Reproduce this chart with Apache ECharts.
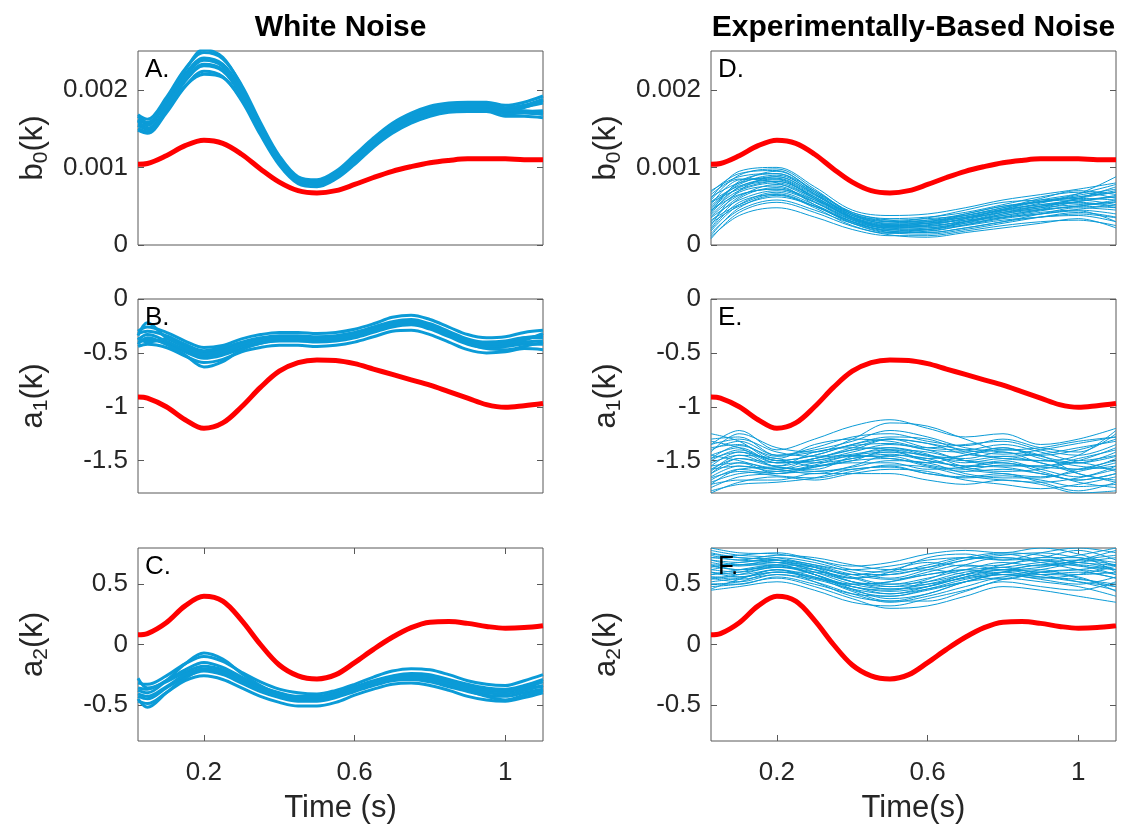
<!DOCTYPE html>
<html><head><meta charset="utf-8">
<script src="https://cdn.jsdelivr.net/npm/echarts@6/dist/echarts.min.js"></script>
<style>html,body{margin:0;padding:0;background:#fff}#c{width:1121px;height:825px}</style>
</head><body><div id="c"></div>
<script>
// ---------- DATA ----------
const TIME = [0.025,0.05,0.1,0.15,0.2,0.25,0.3,0.35,0.4,0.45,0.5,0.55,0.6,0.65,0.7,0.75,0.8,0.85,0.9,0.95,1.0,1.05,1.1];
const TIME_C = [0.025,0.1,0.2,0.3,0.4,0.5,0.6,0.7,0.8,0.9,1.0,1.1];
const X_TICKS = [0.2, 0.6, 1];
const Y_TICKS_B0 = [0, 0.001, 0.002];
const Y_TICKS_A1 = [-1.5, -1, -0.5, 0];
const Y_TICKS_A2 = [-0.5, 0, 0.5];
const COL_TITLES = ['White Noise', 'Experimentally-Based Noise'];
const X_NAMES = ['Time (s)', 'Time(s)'];
const LETTERS = [['A.','B.','C.'],['D.','E.','F.']];

// true (red) coefficient trajectories
const redB0 = [1.04e-3,1.05e-3,1.15e-3,1.28e-3,1.35e-3,1.31e-3,1.17e-3,0.98e-3,0.81e-3,0.70e-3,0.67e-3,0.70e-3,0.78e-3,0.87e-3,0.95e-3,1.01e-3,1.06e-3,1.09e-3,1.11e-3,1.11e-3,1.11e-3,1.10e-3,1.10e-3];
const redA1 = [-0.91,-0.92,-1.00,-1.12,-1.20,-1.15,-1.00,-0.82,-0.67,-0.59,-0.565,-0.57,-0.60,-0.65,-0.70,-0.75,-0.80,-0.86,-0.92,-0.98,-1.005,-0.99,-0.97];
const redA2 = [0.08,0.09,0.18,0.32,0.40,0.36,0.20,0.00,-0.17,-0.26,-0.285,-0.25,-0.15,-0.04,0.06,0.14,0.185,0.19,0.175,0.15,0.135,0.14,0.155];

// white-noise estimates (sampled on TIME)
const whiteB0 = [
 [1.68e-3,1.62e-3,1.90e-3,2.27e-3,2.48e-3,2.40e-3,2.06e-3,1.58e-3,1.15e-3,0.88e-3,0.84e-3,0.95e-3,1.16e-3,1.38e-3,1.57e-3,1.70e-3,1.79e-3,1.83e-3,1.84e-3,1.84e-3,1.80e-3,1.84e-3,1.92e-3],
 [1.48e-3,1.44e-3,1.70e-3,2.04e-3,2.24e-3,2.17e-3,1.86e-3,1.42e-3,1.03e-3,0.79e-3,0.75e-3,0.85e-3,1.04e-3,1.26e-3,1.44e-3,1.57e-3,1.66e-3,1.71e-3,1.72e-3,1.72e-3,1.66e-3,1.66e-3,1.64e-3],
 [1.62e-3,1.56e-3,1.84e-3,2.20e-3,2.41e-3,2.33e-3,2.00e-3,1.53e-3,1.11e-3,0.85e-3,0.81e-3,0.92e-3,1.12e-3,1.34e-3,1.53e-3,1.66e-3,1.75e-3,1.80e-3,1.81e-3,1.80e-3,1.75e-3,1.78e-3,1.83e-3],
 [1.54e-3,1.49e-3,1.76e-3,2.11e-3,2.31e-3,2.24e-3,1.92e-3,1.47e-3,1.07e-3,0.82e-3,0.78e-3,0.88e-3,1.08e-3,1.30e-3,1.48e-3,1.61e-3,1.70e-3,1.74e-3,1.75e-3,1.76e-3,1.70e-3,1.72e-3,1.73e-3],
 [1.60e-3,1.50e-3,1.74e-3,2.05e-3,2.20e-3,2.16e-3,1.88e-3,1.46e-3,1.07e-3,0.83e-3,0.79e-3,0.89e-3,1.09e-3,1.31e-3,1.49e-3,1.62e-3,1.71e-3,1.76e-3,1.77e-3,1.77e-3,1.72e-3,1.77e-3,1.86e-3],
 [1.56e-3,1.54e-3,1.86e-3,2.25e-3,2.52e-3,2.42e-3,2.04e-3,1.54e-3,1.12e-3,0.86e-3,0.82e-3,0.91e-3,1.11e-3,1.33e-3,1.51e-3,1.64e-3,1.73e-3,1.78e-3,1.79e-3,1.79e-3,1.74e-3,1.73e-3,1.70e-3],
 [1.66e-3,1.58e-3,1.82e-3,2.17e-3,2.38e-3,2.30e-3,1.98e-3,1.52e-3,1.10e-3,0.85e-3,0.81e-3,0.91e-3,1.12e-3,1.35e-3,1.54e-3,1.67e-3,1.76e-3,1.81e-3,1.82e-3,1.82e-3,1.77e-3,1.80e-3,1.88e-3],
 [1.50e-3,1.46e-3,1.78e-3,2.13e-3,2.33e-3,2.26e-3,1.94e-3,1.48e-3,1.08e-3,0.83e-3,0.78e-3,0.89e-3,1.09e-3,1.30e-3,1.47e-3,1.60e-3,1.69e-3,1.73e-3,1.74e-3,1.74e-3,1.69e-3,1.70e-3,1.68e-3]
];
const whiteA1 = [
 [-0.30,-0.26,-0.31,-0.39,-0.45,-0.43,-0.37,-0.33,-0.31,-0.31,-0.32,-0.31,-0.28,-0.23,-0.17,-0.15,-0.19,-0.26,-0.33,-0.36,-0.35,-0.31,-0.29],
 [-0.44,-0.42,-0.45,-0.53,-0.59,-0.56,-0.49,-0.45,-0.43,-0.43,-0.44,-0.43,-0.40,-0.35,-0.30,-0.29,-0.33,-0.40,-0.47,-0.50,-0.49,-0.46,-0.47],
 [-0.34,-0.22,-0.36,-0.44,-0.50,-0.47,-0.41,-0.37,-0.35,-0.35,-0.36,-0.35,-0.32,-0.27,-0.22,-0.20,-0.24,-0.31,-0.38,-0.41,-0.40,-0.36,-0.34],
 [-0.40,-0.38,-0.41,-0.49,-0.55,-0.52,-0.46,-0.41,-0.39,-0.39,-0.40,-0.39,-0.36,-0.31,-0.26,-0.24,-0.28,-0.35,-0.42,-0.45,-0.44,-0.42,-0.42],
 [-0.42,-0.36,-0.42,-0.52,-0.63,-0.58,-0.47,-0.41,-0.38,-0.38,-0.39,-0.38,-0.35,-0.30,-0.25,-0.23,-0.27,-0.34,-0.41,-0.46,-0.47,-0.44,-0.40],
 [-0.32,-0.30,-0.34,-0.42,-0.48,-0.45,-0.40,-0.36,-0.34,-0.34,-0.35,-0.34,-0.31,-0.26,-0.21,-0.19,-0.23,-0.30,-0.37,-0.40,-0.39,-0.36,-0.36],
 [-0.38,-0.33,-0.39,-0.47,-0.53,-0.50,-0.44,-0.40,-0.38,-0.38,-0.39,-0.38,-0.35,-0.30,-0.25,-0.23,-0.27,-0.34,-0.41,-0.44,-0.43,-0.40,-0.39],
 [-0.36,-0.40,-0.37,-0.45,-0.51,-0.48,-0.42,-0.38,-0.36,-0.36,-0.37,-0.36,-0.33,-0.28,-0.23,-0.21,-0.25,-0.32,-0.39,-0.42,-0.41,-0.38,-0.32]
];
const whiteA2 = [
 [-0.32,-0.33,-0.26,-0.16,-0.10,-0.14,-0.23,-0.31,-0.37,-0.40,-0.41,-0.38,-0.33,-0.27,-0.22,-0.20,-0.21,-0.25,-0.30,-0.33,-0.34,-0.30,-0.25],
 [-0.47,-0.49,-0.40,-0.30,-0.26,-0.29,-0.36,-0.43,-0.48,-0.51,-0.51,-0.48,-0.42,-0.37,-0.33,-0.32,-0.34,-0.38,-0.43,-0.46,-0.47,-0.44,-0.40],
 [-0.36,-0.37,-0.30,-0.21,-0.15,-0.19,-0.27,-0.35,-0.40,-0.43,-0.43,-0.40,-0.35,-0.30,-0.26,-0.24,-0.25,-0.29,-0.33,-0.36,-0.37,-0.34,-0.29],
 [-0.43,-0.45,-0.36,-0.27,-0.22,-0.25,-0.32,-0.39,-0.44,-0.47,-0.47,-0.44,-0.39,-0.34,-0.30,-0.29,-0.31,-0.35,-0.39,-0.42,-0.43,-0.40,-0.37],
 [-0.38,-0.40,-0.30,-0.16,-0.07,-0.12,-0.24,-0.34,-0.41,-0.44,-0.44,-0.41,-0.36,-0.31,-0.27,-0.25,-0.26,-0.30,-0.35,-0.38,-0.39,-0.36,-0.31],
 [-0.45,-0.52,-0.40,-0.28,-0.21,-0.23,-0.30,-0.38,-0.43,-0.46,-0.46,-0.43,-0.38,-0.33,-0.29,-0.28,-0.29,-0.33,-0.38,-0.43,-0.46,-0.42,-0.38],
 [-0.28,-0.36,-0.31,-0.23,-0.18,-0.21,-0.29,-0.36,-0.41,-0.44,-0.44,-0.41,-0.36,-0.31,-0.27,-0.26,-0.27,-0.31,-0.35,-0.38,-0.39,-0.36,-0.35],
 [-0.41,-0.43,-0.35,-0.25,-0.20,-0.23,-0.31,-0.38,-0.43,-0.46,-0.46,-0.43,-0.38,-0.33,-0.29,-0.28,-0.29,-0.33,-0.37,-0.40,-0.41,-0.38,-0.34]
];

// experimentally-based-noise estimates (sampled on TIME_C)
const expB0 = [
 [0.60e-3,0.95e-3,1.00e-3,0.75e-3,0.45e-3,0.38e-3,0.40e-3,0.48e-3,0.58e-3,0.65e-3,0.72e-3,0.80e-3],
 [0.40e-3,0.75e-3,0.85e-3,0.62e-3,0.35e-3,0.25e-3,0.28e-3,0.36e-3,0.45e-3,0.52e-3,0.58e-3,0.62e-3],
 [0.20e-3,0.55e-3,0.65e-3,0.48e-3,0.25e-3,0.15e-3,0.18e-3,0.25e-3,0.32e-3,0.36e-3,0.40e-3,0.35e-3],
 [0.70e-3,0.88e-3,0.92e-3,0.70e-3,0.42e-3,0.32e-3,0.30e-3,0.38e-3,0.48e-3,0.60e-3,0.70e-3,0.65e-3],
 [0.30e-3,0.62e-3,0.78e-3,0.60e-3,0.35e-3,0.22e-3,0.20e-3,0.30e-3,0.42e-3,0.50e-3,0.55e-3,0.50e-3],
 [0.10e-3,0.38e-3,0.48e-3,0.36e-3,0.20e-3,0.12e-3,0.12e-3,0.18e-3,0.25e-3,0.30e-3,0.32e-3,0.25e-3],
 [0.50e-3,0.80e-3,0.95e-3,0.70e-3,0.40e-3,0.30e-3,0.35e-3,0.45e-3,0.55e-3,0.58e-3,0.62e-3,0.70e-3],
 [0.35e-3,0.58e-3,0.70e-3,0.55e-3,0.32e-3,0.22e-3,0.25e-3,0.30e-3,0.38e-3,0.45e-3,0.50e-3,0.58e-3],
 [0.25e-3,0.70e-3,0.88e-3,0.65e-3,0.38e-3,0.28e-3,0.32e-3,0.40e-3,0.50e-3,0.55e-3,0.62e-3,0.68e-3],
 [0.45e-3,0.65e-3,0.72e-3,0.55e-3,0.30e-3,0.18e-3,0.16e-3,0.22e-3,0.30e-3,0.40e-3,0.48e-3,0.45e-3],
 [0.55e-3,0.72e-3,0.82e-3,0.62e-3,0.38e-3,0.30e-3,0.32e-3,0.35e-3,0.42e-3,0.48e-3,0.60e-3,0.75e-3],
 [0.15e-3,0.45e-3,0.58e-3,0.45e-3,0.28e-3,0.20e-3,0.22e-3,0.28e-3,0.35e-3,0.42e-3,0.45e-3,0.40e-3],
 [0.65e-3,0.85e-3,0.80e-3,0.58e-3,0.33e-3,0.24e-3,0.26e-3,0.34e-3,0.46e-3,0.56e-3,0.66e-3,0.88e-3],
 [0.38e-3,0.68e-3,0.76e-3,0.52e-3,0.28e-3,0.16e-3,0.20e-3,0.28e-3,0.40e-3,0.48e-3,0.52e-3,0.55e-3],
 [0.28e-3,0.50e-3,0.62e-3,0.50e-3,0.30e-3,0.22e-3,0.24e-3,0.30e-3,0.36e-3,0.40e-3,0.44e-3,0.30e-3],
 [0.48e-3,0.78e-3,0.90e-3,0.68e-3,0.42e-3,0.34e-3,0.36e-3,0.42e-3,0.52e-3,0.62e-3,0.68e-3,0.60e-3],
 [0.08e-3,0.42e-3,0.55e-3,0.42e-3,0.24e-3,0.13e-3,0.10e-3,0.16e-3,0.22e-3,0.28e-3,0.34e-3,0.22e-3],
 [0.58e-3,0.90e-3,0.98e-3,0.72e-3,0.40e-3,0.26e-3,0.24e-3,0.32e-3,0.44e-3,0.54e-3,0.64e-3,0.72e-3],
 [0.42e-3,0.82e-3,0.92e-3,0.66e-3,0.36e-3,0.24e-3,0.26e-3,0.34e-3,0.46e-3,0.58e-3,0.66e-3,0.78e-3],
 [0.22e-3,0.60e-3,0.74e-3,0.56e-3,0.32e-3,0.20e-3,0.18e-3,0.26e-3,0.36e-3,0.44e-3,0.50e-3,0.48e-3],
 [0.68e-3,0.92e-3,0.96e-3,0.68e-3,0.38e-3,0.28e-3,0.30e-3,0.40e-3,0.50e-3,0.56e-3,0.58e-3,0.52e-3],
 [0.32e-3,0.52e-3,0.66e-3,0.50e-3,0.28e-3,0.16e-3,0.14e-3,0.20e-3,0.28e-3,0.36e-3,0.42e-3,0.36e-3],
 [0.52e-3,0.84e-3,0.86e-3,0.64e-3,0.40e-3,0.32e-3,0.34e-3,0.38e-3,0.46e-3,0.52e-3,0.56e-3,0.64e-3],
 [0.12e-3,0.48e-3,0.64e-3,0.50e-3,0.30e-3,0.18e-3,0.20e-3,0.26e-3,0.34e-3,0.40e-3,0.46e-3,0.52e-3],
 [0.44e-3,0.70e-3,0.80e-3,0.60e-3,0.34e-3,0.24e-3,0.28e-3,0.36e-3,0.44e-3,0.50e-3,0.54e-3,0.48e-3],
 [0.62e-3,0.80e-3,0.88e-3,0.66e-3,0.40e-3,0.30e-3,0.28e-3,0.34e-3,0.42e-3,0.50e-3,0.60e-3,0.68e-3],
 [0.36e-3,0.64e-3,0.72e-3,0.58e-3,0.36e-3,0.26e-3,0.28e-3,0.32e-3,0.38e-3,0.46e-3,0.56e-3,0.62e-3],
 [0.18e-3,0.52e-3,0.68e-3,0.52e-3,0.30e-3,0.18e-3,0.16e-3,0.22e-3,0.30e-3,0.36e-3,0.38e-3,0.30e-3],
 [0.56e-3,0.76e-3,0.84e-3,0.60e-3,0.34e-3,0.22e-3,0.22e-3,0.30e-3,0.40e-3,0.46e-3,0.50e-3,0.56e-3],
 [0.46e-3,0.74e-3,0.82e-3,0.62e-3,0.36e-3,0.26e-3,0.30e-3,0.38e-3,0.48e-3,0.56e-3,0.60e-3,0.58e-3]
];
const expA1 = [
 [-1.35,-1.22,-1.40,-1.30,-1.18,-1.12,-1.20,-1.28,-1.25,-1.35,-1.30,-1.20],
 [-1.50,-1.40,-1.50,-1.45,-1.35,-1.30,-1.38,-1.40,-1.35,-1.42,-1.50,-1.45],
 [-1.65,-1.55,-1.58,-1.52,-1.45,-1.42,-1.50,-1.55,-1.50,-1.58,-1.65,-1.55],
 [-1.75,-1.65,-1.62,-1.60,-1.58,-1.55,-1.62,-1.65,-1.62,-1.70,-1.78,-1.70],
 [-1.40,-1.32,-1.45,-1.38,-1.28,-1.25,-1.32,-1.36,-1.30,-1.38,-1.42,-1.25],
 [-1.58,-1.48,-1.55,-1.48,-1.40,-1.38,-1.45,-1.48,-1.42,-1.52,-1.58,-1.48],
 [-1.70,-1.62,-1.60,-1.56,-1.50,-1.48,-1.55,-1.60,-1.58,-1.62,-1.68,-1.62],
 [-1.30,-1.28,-1.45,-1.40,-1.32,-1.22,-1.28,-1.38,-1.42,-1.45,-1.40,-1.30],
 [-1.45,-1.38,-1.52,-1.50,-1.42,-1.35,-1.40,-1.50,-1.52,-1.55,-1.48,-1.40],
 [-1.62,-1.52,-1.58,-1.62,-1.55,-1.45,-1.48,-1.58,-1.62,-1.65,-1.60,-1.52],
 [-1.80,-1.70,-1.65,-1.68,-1.62,-1.58,-1.60,-1.68,-1.72,-1.76,-1.72,-1.65],
 [-1.52,-1.45,-1.55,-1.42,-1.38,-1.40,-1.48,-1.45,-1.38,-1.48,-1.55,-1.58],
 [-1.38,-1.35,-1.48,-1.35,-1.30,-1.32,-1.38,-1.35,-1.32,-1.40,-1.45,-1.35],
 [-1.68,-1.58,-1.62,-1.55,-1.52,-1.52,-1.58,-1.56,-1.52,-1.60,-1.70,-1.75],
 [-1.55,-1.42,-1.50,-1.52,-1.48,-1.42,-1.45,-1.52,-1.48,-1.50,-1.52,-1.42],
 [-1.45,-1.50,-1.58,-1.48,-1.45,-1.48,-1.52,-1.45,-1.40,-1.45,-1.62,-1.68],
 [-1.72,-1.68,-1.68,-1.62,-1.62,-1.62,-1.68,-1.72,-1.68,-1.72,-1.80,-1.78],
 [-1.25,-1.32,-1.50,-1.45,-1.35,-1.28,-1.30,-1.42,-1.48,-1.50,-1.45,-1.22],
 [-1.42,-1.25,-1.38,-1.42,-1.30,-1.15,-1.18,-1.30,-1.40,-1.38,-1.32,-1.28],
 [-1.60,-1.45,-1.48,-1.55,-1.50,-1.40,-1.42,-1.50,-1.55,-1.55,-1.50,-1.38],
 [-1.48,-1.42,-1.56,-1.58,-1.46,-1.38,-1.44,-1.56,-1.60,-1.58,-1.52,-1.60],
 [-1.35,-1.30,-1.42,-1.46,-1.40,-1.30,-1.34,-1.44,-1.46,-1.44,-1.38,-1.32],
 [-1.72,-1.58,-1.56,-1.60,-1.56,-1.50,-1.52,-1.62,-1.66,-1.66,-1.58,-1.50],
 [-1.55,-1.52,-1.62,-1.56,-1.48,-1.44,-1.50,-1.55,-1.56,-1.62,-1.68,-1.62],
 [-1.62,-1.48,-1.52,-1.50,-1.44,-1.40,-1.46,-1.50,-1.46,-1.52,-1.62,-1.70],
 [-1.48,-1.36,-1.46,-1.42,-1.36,-1.34,-1.40,-1.42,-1.38,-1.46,-1.52,-1.46],
 [-1.78,-1.72,-1.70,-1.66,-1.58,-1.56,-1.62,-1.66,-1.64,-1.68,-1.74,-1.72],
 [-1.32,-1.38,-1.52,-1.48,-1.38,-1.30,-1.34,-1.40,-1.44,-1.40,-1.34,-1.28],
 [-1.58,-1.55,-1.60,-1.54,-1.46,-1.46,-1.54,-1.58,-1.54,-1.56,-1.58,-1.55],
 [-1.66,-1.60,-1.64,-1.66,-1.60,-1.54,-1.56,-1.64,-1.68,-1.70,-1.66,-1.58]
];
const expA2 = [
 [0.75,0.72,0.70,0.62,0.55,0.60,0.72,0.75,0.70,0.72,0.78,0.70],
 [0.65,0.62,0.65,0.58,0.48,0.45,0.52,0.60,0.62,0.58,0.60,0.55],
 [0.55,0.52,0.58,0.52,0.42,0.35,0.40,0.48,0.55,0.52,0.48,0.40],
 [0.48,0.50,0.55,0.48,0.38,0.30,0.32,0.40,0.48,0.45,0.40,0.35],
 [0.70,0.68,0.72,0.68,0.60,0.55,0.62,0.70,0.75,0.70,0.65,0.62],
 [0.60,0.58,0.62,0.55,0.50,0.52,0.58,0.62,0.58,0.62,0.68,0.72],
 [0.80,0.76,0.75,0.70,0.65,0.68,0.75,0.78,0.76,0.80,0.75,0.65],
 [0.52,0.55,0.60,0.60,0.55,0.48,0.50,0.55,0.60,0.62,0.55,0.48],
 [0.68,0.65,0.68,0.65,0.58,0.62,0.68,0.65,0.66,0.72,0.72,0.60],
 [0.58,0.62,0.66,0.58,0.45,0.40,0.45,0.52,0.58,0.55,0.58,0.65],
 [0.45,0.48,0.52,0.45,0.35,0.32,0.38,0.45,0.52,0.48,0.45,0.52],
 [0.72,0.70,0.68,0.62,0.52,0.50,0.55,0.62,0.68,0.65,0.70,0.78],
 [0.62,0.60,0.64,0.62,0.55,0.58,0.62,0.58,0.54,0.60,0.62,0.58],
 [0.78,0.74,0.72,0.66,0.62,0.65,0.70,0.72,0.70,0.76,0.80,0.76],
 [0.50,0.52,0.60,0.55,0.48,0.42,0.48,0.58,0.64,0.58,0.52,0.45],
 [0.66,0.66,0.70,0.64,0.52,0.48,0.54,0.66,0.72,0.68,0.62,0.55],
 [0.56,0.56,0.62,0.52,0.40,0.36,0.42,0.52,0.60,0.66,0.66,0.62],
 [0.74,0.70,0.74,0.72,0.66,0.62,0.64,0.70,0.74,0.76,0.72,0.68],
 [0.62,0.66,0.68,0.60,0.50,0.46,0.50,0.58,0.66,0.70,0.66,0.58],
 [0.54,0.58,0.64,0.58,0.46,0.38,0.42,0.52,0.58,0.56,0.52,0.48],
 [0.70,0.66,0.66,0.58,0.50,0.52,0.60,0.66,0.62,0.64,0.70,0.74],
 [0.46,0.54,0.62,0.56,0.44,0.36,0.36,0.44,0.54,0.58,0.56,0.44],
 [0.76,0.72,0.70,0.64,0.58,0.58,0.64,0.72,0.76,0.74,0.68,0.66],
 [0.58,0.60,0.66,0.64,0.56,0.50,0.52,0.58,0.62,0.66,0.68,0.62],
 [0.66,0.62,0.64,0.60,0.52,0.46,0.48,0.56,0.62,0.60,0.58,0.60],
 [0.50,0.50,0.56,0.50,0.42,0.40,0.46,0.54,0.58,0.54,0.50,0.56],
 [0.72,0.74,0.76,0.70,0.62,0.60,0.66,0.72,0.72,0.70,0.74,0.80],
 [0.56,0.54,0.58,0.54,0.46,0.42,0.46,0.52,0.56,0.60,0.62,0.66],
 [0.64,0.68,0.70,0.66,0.58,0.54,0.58,0.62,0.64,0.68,0.70,0.66],
 [0.60,0.56,0.60,0.56,0.48,0.44,0.48,0.56,0.60,0.56,0.54,0.50]
];

// ---------- LAYOUT / STYLE ----------
const FONT = '"Liberation Sans", Arial, Helvetica, sans-serif';
const TXT = '#262626';
const AXC = '#595959';
const BLUE = '#0b9bd7';
const RED = '#ff0000';
const X_MIN = 0.025, X_MAX = 1.1;
const COLS = [{left:138, width:405}, {left:711, width:405}];
const ROWS = [{top:51, height:194}, {top:299, height:194}, {top:548, height:194}];
const ROW_Y = [
  {min:0, max:0.0025, ticks:Y_TICKS_B0, sym:'b', sub:'0'},
  {min:-1.8, max:0, ticks:Y_TICKS_A1, sym:'a', sub:'1'},
  {min:-0.8, max:0.8, ticks:Y_TICKS_A2, sym:'a', sub:'2'}
];
const PANELS = [
  {c:0,r:0, blue:whiteB0, t:TIME, red:redB0, w:3},
  {c:0,r:1, blue:whiteA1, t:TIME, red:redA1, w:3},
  {c:0,r:2, blue:whiteA2, t:TIME, red:redA2, w:3},
  {c:1,r:0, blue:expB0, t:TIME_C, red:redB0, w:1},
  {c:1,r:1, blue:expA1, t:TIME_C, red:redA1, w:1},
  {c:1,r:2, blue:expA2, t:TIME_C, red:redA2, w:1}
];

const grid = [], xAxis = [], yAxis = [], series = [], graphic = [];
const tickStyle = {color: AXC, width: 1};
PANELS.forEach((p, i) => {
  const col = COLS[p.c], row = ROWS[p.r], ry = ROW_Y[p.r];
  const bottomRow = p.r === 2;
  grid.push({left: col.left, top: row.top, width: col.width, height: row.height,
    show: true, borderColor: AXC, borderWidth: 1, backgroundColor: 'transparent', containLabel: false});
  xAxis.push({gridIndex: i, type: 'value', min: X_MIN, max: X_MAX, position: 'bottom',
    axisLine: {show: false, onZero: false}, splitLine: {show: false},
    axisTick: {show: bottomRow, inside: true, length: 6, customValues: X_TICKS, lineStyle: tickStyle},
    axisLabel: {show: bottomRow, customValues: X_TICKS, color: TXT, fontSize: 26, fontFamily: FONT, margin: 19},
    name: bottomRow ? X_NAMES[p.c] : '', nameLocation: 'middle', nameGap: 52,
    nameTextStyle: {color: TXT, fontSize: 31, fontFamily: FONT}});
  xAxis.push({gridIndex: i, type: 'value', min: X_MIN, max: X_MAX, position: 'top',
    axisLine: {show: false, onZero: false}, splitLine: {show: false}, axisLabel: {show: false},
    axisTick: {show: bottomRow, inside: true, length: 6, customValues: X_TICKS, lineStyle: tickStyle}});
  yAxis.push({gridIndex: i, type: 'value', min: ry.min, max: ry.max, position: 'left',
    axisLine: {show: false, onZero: false}, splitLine: {show: false},
    axisTick: {show: true, inside: true, length: 6, customValues: ry.ticks, lineStyle: tickStyle},
    axisLabel: {customValues: ry.ticks, color: TXT, fontSize: 26, fontFamily: FONT, margin: 10},
    name: '{m|' + ry.sym + '}{s|' + ry.sub + '}{m|(k)}', nameLocation: 'middle', nameGap: 86,
    nameTextStyle: {rich: {
      m: {fontSize: 31, fontFamily: FONT, color: TXT, lineHeight: 34, verticalAlign: 'top'},
      s: {fontSize: 21, fontFamily: FONT, color: TXT, lineHeight: 21, padding: [16,0,0,0], verticalAlign: 'bottom'}
    }}});
  yAxis.push({gridIndex: i, type: 'value', min: ry.min, max: ry.max, position: 'right',
    axisLine: {show: false, onZero: false}, splitLine: {show: false}, axisLabel: {show: false},
    axisTick: {show: true, inside: true, length: 6, customValues: ry.ticks, lineStyle: tickStyle}});
  p.blue.forEach(line => {
    series.push({type: 'line', xAxisIndex: 2*i, yAxisIndex: 2*i, data: p.t.map((t, k) => [t, line[k]]),
      smooth: 0.35, showSymbol: false, symbol: 'none', clip: true, silent: true, z: 2,
      lineStyle: {color: BLUE, width: p.w}});
  });
  series.push({type: 'line', xAxisIndex: 2*i, yAxisIndex: 2*i, data: TIME.map((t, k) => [t, p.red[k]]),
    smooth: 0.35, showSymbol: false, symbol: 'none', clip: true, silent: true, z: 3,
    lineStyle: {color: RED, width: 5}});
  graphic.push({type: 'text', x: col.left + 7, y: row.top + 19, z: 10,
    style: {text: LETTERS[p.c][p.r], fill: '#000', fontSize: 26, fontFamily: FONT, align: 'left', verticalAlign: 'middle'}});
});
COLS.forEach((col, c) => {
  graphic.push({type: 'text', x: col.left + col.width / 2, y: 28,
    style: {text: COL_TITLES[c], fill: '#000', fontSize: 30, fontWeight: 'bold', fontFamily: FONT, align: 'center', verticalAlign: 'middle'}});
});

const chart = echarts.init(document.getElementById('c'), null, {renderer: 'canvas'});
chart.setOption({animation: false, backgroundColor: '#fff', grid, xAxis, yAxis, series, graphic});
</script></body></html>
